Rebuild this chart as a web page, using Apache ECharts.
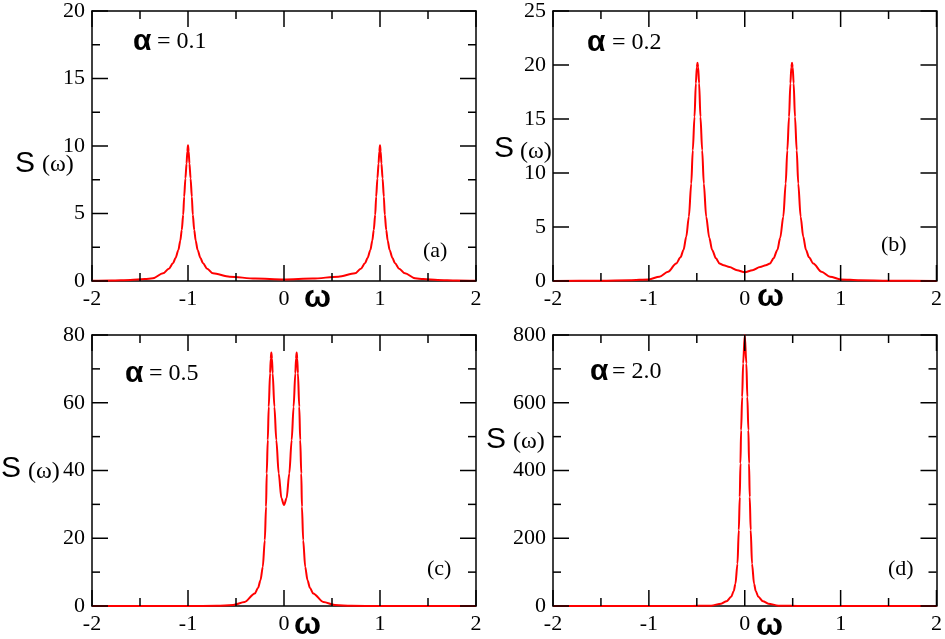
<!DOCTYPE html>
<html>
<head>
<meta charset="utf-8">
<script src="https://cdn.jsdelivr.net/npm/echarts@6/dist/echarts.min.js"></script>
<style>
  html, body { margin: 0; padding: 0; background: #fff; }
  #main { width: 945px; height: 639px; }
</style>
</head>
<body>
<div id="main"></div>
<script>
// (a) alpha = 0.1
var omegaA = [-2, -1.8, -1.6, -1.45, -1.365, -1.26, -1.2, -1.156, -1.13, -1.1, -1.08, -1.065, -1.05, -1.04, -1.027, -1.015, -1.007, -1, -0.993, -0.985, -0.973, -0.96, -0.95, -0.935, -0.92, -0.9, -0.87, -0.844, -0.8, -0.74, -0.566, -0.3, 0, 0.3, 0.566, 0.74, 0.8, 0.844, 0.87, 0.9, 0.92, 0.935, 0.95, 0.96, 0.973, 0.985, 0.993, 1, 1.007, 1.015, 1.027, 1.04, 1.05, 1.065, 1.08, 1.1, 1.13, 1.156, 1.2, 1.26, 1.365, 1.45, 1.6, 1.8, 2]
var sA = [0.02, 0.04, 0.08, 0.15, 0.2, 0.57, 0.9, 1.31, 1.7, 2.3, 3.0, 3.78, 4.9, 6.24, 7.6, 8.7, 9.6, 10.05, 9.6, 8.7, 7.6, 6.24, 4.9, 3.78, 3.0, 2.3, 1.7, 1.31, 0.9, 0.57, 0.32, 0.18, 0.12, 0.18, 0.32, 0.57, 0.9, 1.31, 1.7, 2.3, 3.0, 3.78, 4.9, 6.24, 7.6, 8.7, 9.6, 10.05, 9.6, 8.7, 7.6, 6.24, 4.9, 3.78, 3.0, 2.3, 1.7, 1.31, 0.9, 0.57, 0.2, 0.15, 0.08, 0.04, 0.02]

// (b) alpha = 0.2
var omegaB = [-2, -1.5, -1.2, -1, -0.89, -0.8, -0.715, -0.67, -0.639, -0.61, -0.583, -0.558, -0.542, -0.524, -0.51, -0.5, -0.493, -0.486, -0.476, -0.462, -0.444, -0.427, -0.402, -0.37, -0.34, -0.3, -0.264, -0.22, -0.16, -0.08, 0, 0.08, 0.16, 0.22, 0.264, 0.3, 0.34, 0.37, 0.402, 0.427, 0.444, 0.462, 0.476, 0.486, 0.493, 0.5, 0.51, 0.524, 0.542, 0.558, 0.583, 0.61, 0.639, 0.67, 0.715, 0.8, 0.89, 1, 1.2, 1.5, 2]
var sB = [0, 0.02, 0.06, 0.15, 0.4, 0.85, 1.63, 2.2, 2.87, 4.1, 5.95, 9.03, 12.1, 15.2, 18.3, 19.8, 20.2, 19.8, 18.3, 15.2, 12.1, 9.03, 5.95, 4.0, 2.87, 2.1, 1.63, 1.45, 1.3, 1.0, 0.8, 1.0, 1.3, 1.45, 1.63, 2.1, 2.87, 4.0, 5.95, 9.03, 12.1, 15.2, 18.3, 19.8, 20.2, 19.8, 18.3, 15.2, 12.1, 9.03, 5.95, 4.1, 2.87, 2.2, 1.63, 0.85, 0.4, 0.15, 0.06, 0.02, 0]

// (c) alpha = 0.5
var omegaC = [-2, -1, -0.7, -0.53, -0.41, -0.304, -0.27, -0.245, -0.221, -0.2, -0.187, -0.18, -0.169, -0.159, -0.145, -0.138, -0.132, -0.125, -0.118, -0.1, -0.08, -0.055, -0.027, 0, 0.027, 0.055, 0.08, 0.1, 0.118, 0.125, 0.132, 0.138, 0.145, 0.159, 0.169, 0.18, 0.187, 0.2, 0.221, 0.245, 0.27, 0.304, 0.41, 0.53, 0.7, 1, 2]
var sC = [0, 0, 0.05, 0.3, 1.2, 3.7, 5.4, 7.6, 11.5, 19.4, 29.3, 39.1, 49, 58.8, 68.7, 73, 74.8, 73, 68.7, 58.8, 49, 39.1, 31.8, 29.8, 31.8, 39.1, 49, 58.8, 68.7, 73, 74.8, 73, 68.7, 58.8, 49, 39.1, 29.3, 19.4, 11.5, 7.6, 5.4, 3.7, 1.2, 0.3, 0.05, 0, 0]

// (d) alpha = 2.0
var omegaD = [-2, -0.6, -0.35, -0.246, -0.19, -0.142, -0.115, -0.097, -0.076, -0.062, -0.052, -0.045, -0.038, -0.027, -0.017, 0, 0.017, 0.027, 0.038, 0.045, 0.052, 0.062, 0.076, 0.097, 0.115, 0.142, 0.19, 0.246, 0.35, 0.6, 2]
var sD = [0, 0, 1, 7, 14, 27, 44, 66, 125, 224, 322, 421, 519, 617, 716, 800, 716, 617, 519, 421, 322, 224, 125, 66, 44, 27, 14, 7, 1, 0, 0]

var xMin = -2
var xMax = 2
var xStep = 1
var yMax = [20, 25, 80, 800]
var yStep = [5, 5, 20, 200]
var yMinor = [true, false, true, true]
var alphaLabels = ['= 0.1', '= 0.2', '= 0.5', '= 2.0']
var panelTags = ['(a)', '(b)', '(c)', '(d)']

var serif = '"Liberation Serif", "DejaVu Serif", serif'
var sans = '"Liberation Sans", Arial, sans-serif'

function ink () {
  return { color: '#000', width: 1.5 }
}

function pairs (xs, ys) {
  return xs.map(function (x, i) { return [x, ys[i]] })
}

function omegaAxis (grid, pos) {
  return {
    gridIndex: grid,
    type: 'value',
    position: pos,
    min: xMin,
    max: xMax,
    interval: xStep,
    axisLine: { show: true, onZero: false, lineStyle: ink() },
    axisTick: { show: false },
    minorTick: { show: false },
    splitLine: { show: false },
    axisLabel: {
      show: pos === 'bottom',
      color: '#000',
      fontFamily: serif,
      fontSize: 22,
      margin: 7
    }
  }
}

function sAxis (grid, pos) {
  return {
    gridIndex: grid,
    type: 'value',
    position: pos,
    min: 0,
    max: yMax[grid],
    interval: yStep[grid],
    axisLine: { show: true, onZero: false, lineStyle: ink() },
    axisTick: { show: false },
    minorTick: { show: false },
    splitLine: { show: false },
    axisLabel: {
      show: pos === 'left',
      color: '#000',
      fontFamily: serif,
      fontSize: 22,
      margin: 7
    }
  }
}

function txt (s, x, y, font) {
  return {
    type: 'text',
    x: x,
    y: y,
    style: { text: s, fill: '#000', font: font, align: 'left', verticalAlign: 'middle' }
  }
}

function seg (x1, y1, x2, y2) {
  return {
    type: 'line',
    shape: { x1: x1, y1: y1, x2: x2, y2: y2 },
    style: { stroke: '#000', lineWidth: 1.5, fill: null }
  }
}

// tick positions along each axis: [omega, s, major?]
function xTickRows () {
  var rows = []
  var n = Math.round((xMax - xMin) / xStep * 2)
  for (var k = 0; k <= n; k++) rows.push([xMin + k * xStep / 2, 0, k % 2 === 0 ? 1 : 0])
  return rows
}
function yTickRows (g) {
  var rows = []
  var n = Math.round(yMax[g] / yStep[g] * 2)
  for (var k = 0; k <= n; k++) {
    if (k % 2 === 1 && !yMinor[g]) continue
    rows.push([xMin, k * yStep[g] / 2, k % 2 === 0 ? 1 : 0])
  }
  return rows
}

// inward ticks on the four sides, placed with the axes' own scales
function tickSeries (g, rows, vertical) {
  return {
    type: 'custom',
    xAxisIndex: g * 2,
    yAxisIndex: g * 2,
    silent: true,
    clip: false,
    z: 5,
    data: rows,
    encode: { x: 0, y: 1 },
    renderItem: function (params, api) {
      var len = api.value(2) ? 16 : 8
      var a, b
      if (vertical) {
        a = api.coord([api.value(0), 0])
        b = api.coord([api.value(0), yMax[g]])
        return { type: 'group', children: [seg(a[0], a[1], a[0], a[1] - len), seg(b[0], b[1], b[0], b[1] + len)] }
      }
      a = api.coord([xMin, api.value(1)])
      b = api.coord([xMax, api.value(1)])
      return { type: 'group', children: [seg(a[0], a[1], a[0] + len, a[1]), seg(b[0], b[1], b[0] - len, b[1])] }
    }
  }
}

var grids = [
  { left: 92, top: 11, width: 384, height: 270 },
  { left: 553, top: 11, width: 384, height: 270 },
  { left: 92, top: 335, width: 384, height: 271 },
  { left: 553, top: 335, width: 384, height: 271 }
]
var curves = [[omegaA, sA], [omegaB, sB], [omegaC, sC], [omegaD, sD]]

var xAxes = []
var yAxes = []
var seriesList = []
for (var g = 0; g < 4; g++) {
  xAxes.push(omegaAxis(g, 'bottom'), omegaAxis(g, 'top'))
  yAxes.push(sAxis(g, 'left'), sAxis(g, 'right'))
  seriesList.push({
    type: 'line',
    xAxisIndex: g * 2,
    yAxisIndex: g * 2,
    data: pairs(curves[g][0], curves[g][1]),
    showSymbol: false,
    smooth: 0.3,
    smoothMonotone: 'x',
    lineStyle: { color: '#ff0000', width: 2 }
  })
  seriesList.push(tickSeries(g, xTickRows(), true))
  seriesList.push(tickSeries(g, yTickRows(g), false))
}

var fS = '30px ' + sans
var fW = '24px ' + serif
var fA = 'bold 30px ' + sans
var fEq = '24px ' + serif
var fOm = 'bold 32px ' + sans
var fTag = '22px ' + serif

var labels = [
  // y-axis titles
  txt('S', 15, 164, fS), txt('(ω)', 42, 165, fW),
  txt('S', 494, 149, fS), txt('(ω)', 520, 152, fW),
  txt('S', 1, 469, fS), txt('(ω)', 28, 472, fW),
  txt('S', 486, 440, fS), txt('(ω)', 513, 442, fW),
  // x-axis titles
  txt('ω', 304, 298, fOm),
  txt('ω', 757, 297, fOm),
  txt('ω', 294, 625, fOm),
  txt('ω', 756, 626, fOm),
  // alpha labels
  txt('α', 133, 42, fA), txt(alphaLabels[0], 157, 42, fEq),
  txt('α', 587, 43, fA), txt(alphaLabels[1], 612, 43, fEq),
  txt('α', 125, 374, fA), txt(alphaLabels[2], 149, 374, fEq),
  txt('α', 590, 372, fA), txt(alphaLabels[3], 612, 372, fEq),
  // panel tags
  txt(panelTags[0], 423, 251, fTag),
  txt(panelTags[1], 881, 245, fTag),
  txt(panelTags[2], 427, 569, fTag),
  txt(panelTags[3], 888, 569, fTag)
]

var chart = echarts.init(document.getElementById('main'))
chart.setOption({
  animation: false,
  grid: grids,
  xAxis: xAxes,
  yAxis: yAxes,
  series: seriesList,
  graphic: labels
})
</script>
</body>
</html>
